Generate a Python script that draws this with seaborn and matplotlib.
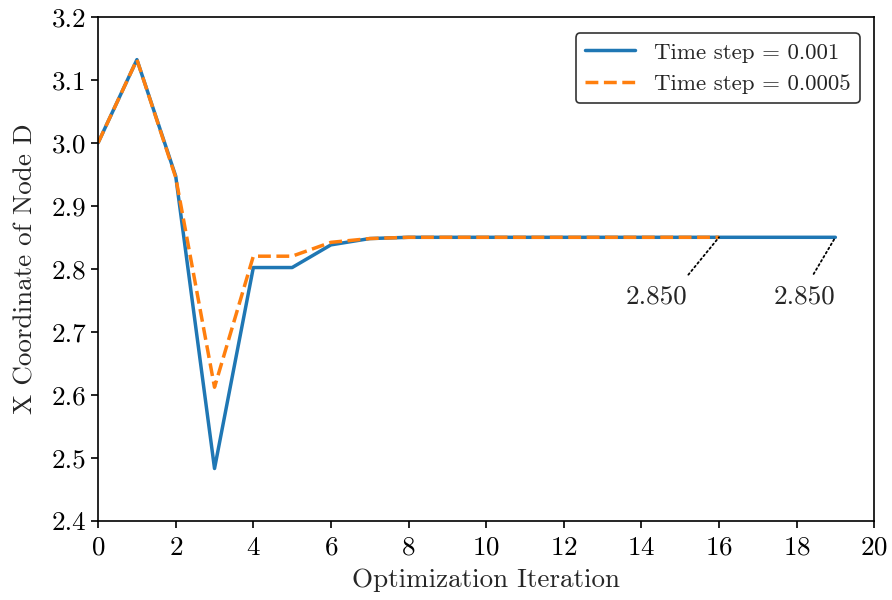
import numpy as np
import pandas as pd
import matplotlib
matplotlib.use("Agg")
import matplotlib.pyplot as plt
import seaborn as sns

# data
iter_a = list(range(20))
x_a = [3.000, 3.132, 2.947, 2.483, 2.802, 2.802, 2.838, 2.848, 2.850, 2.850,
       2.850, 2.850, 2.850, 2.850, 2.850, 2.850, 2.850, 2.850, 2.850, 2.850]
iter_b = list(range(17))
x_b = [3.000, 3.132, 2.945, 2.612, 2.820, 2.820, 2.842, 2.848, 2.850, 2.850,
       2.850, 2.850, 2.850, 2.850, 2.850, 2.850, 2.850]
labels = ["Time step = 0.001", "Time step = 0.0005"]

sns.set_style("ticks")
plt.rcParams["font.family"] = ["cmr10", "DejaVu Serif"]
plt.rcParams["mathtext.fontset"] = "cm"
plt.rcParams["axes.formatter.use_mathtext"] = True
plt.rcParams["font.size"] = 19.5

df_a = pd.DataFrame({"it": iter_a, "x": x_a})
df_b = pd.DataFrame({"it": iter_b, "x": x_b})

fig = plt.figure(figsize=(8.92, 6), dpi=100)
ax = fig.add_axes([0.110, 0.132, 0.870, 0.840])

sns.lineplot(data=df_a, x="it", y="x", ax=ax, color="#1f77b4", lw=2.5, label=labels[0])
sns.lineplot(data=df_b, x="it", y="x", ax=ax, color="#ff7f0e", lw=2.5, ls="--", label=labels[1])

ax.set_xlim(0, 20)
ax.set_ylim(2.4, 3.2)
ax.set_xticks(np.arange(0, 21, 2))
ax.set_yticks(np.arange(2.4, 3.21, 0.1))
ax.set_yticklabels([f"{v:.1f}" for v in np.arange(2.4, 3.21, 0.1)])
ax.set_xlabel("Optimization Iteration", labelpad=6)
ax.set_ylabel("X Coordinate of Node D", labelpad=10)
ax.tick_params(direction="out", length=5, width=1.2, labelsize=19.5, colors="black")
ax.tick_params(axis="x", pad=6)
for s in ax.spines.values():
    s.set_visible(True)
    s.set_linewidth(1.2)
    s.set_color("black")

# final value annotations (text offset in pixels, where the leader line leaves the text)
ann_offsets = [(-62, -59), (-31, -59)]
ann_relpos = [(0.88, 1.0), (0.55, 1.0)]
for (it, vals), off, rp in zip([(iter_b, x_b), (iter_a, x_a)], ann_offsets, ann_relpos):
    ax.annotate(f"{vals[-1]:.3f}", xy=(it[-1], vals[-1]), xytext=off,
                textcoords="offset pixels", ha="center", va="center", fontsize=19.5,
                arrowprops=dict(arrowstyle="-", ls=":", color="black", lw=1.3,
                                relpos=rp, shrinkA=6, shrinkB=0))

leg = ax.legend(loc="upper right", fontsize=16.5, frameon=True, fancybox=True,
                edgecolor="#333333", framealpha=1, handlelength=2.2,
                bbox_to_anchor=(0.996, 0.99))
leg.get_frame().set_linewidth(1.2)

fig.savefig("out.png", dpi=100)
